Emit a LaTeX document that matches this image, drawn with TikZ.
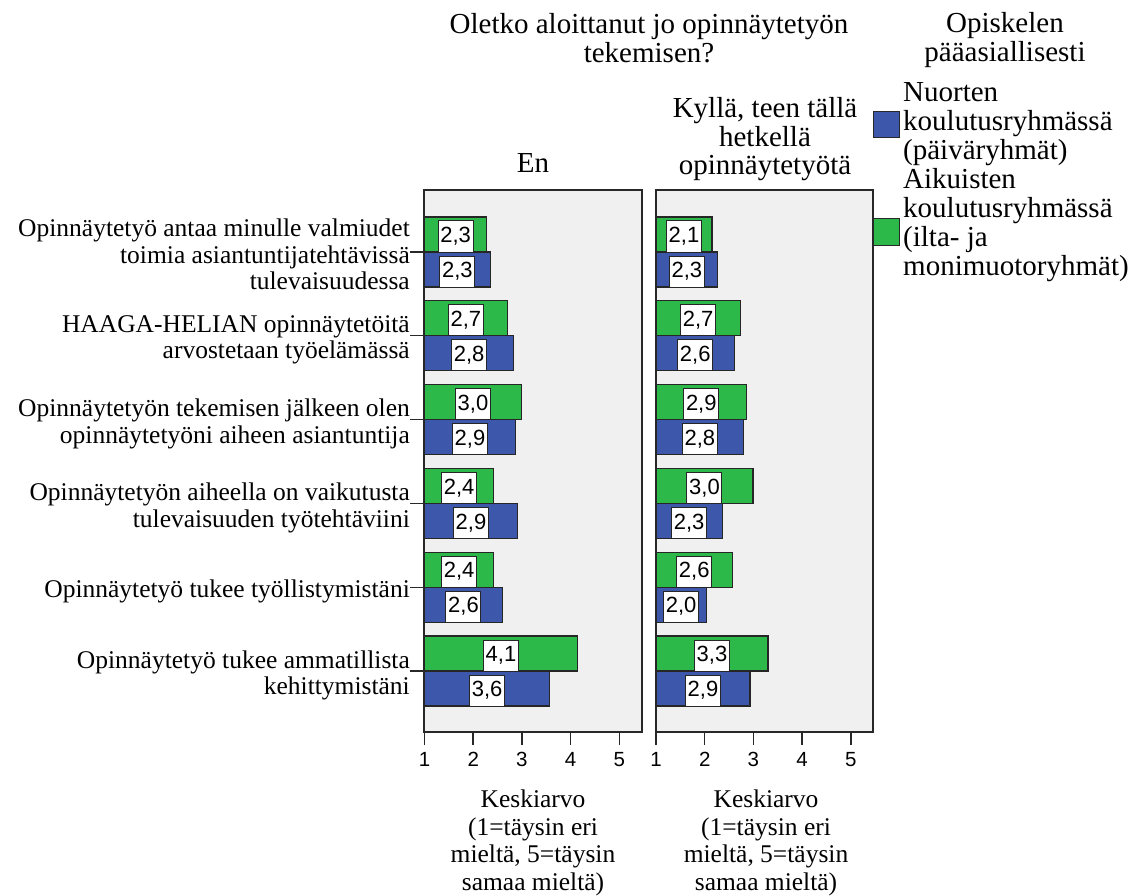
\documentclass[tikz,border=0pt]{standalone}
\usepackage{fontspec}
\setmainfont{Liberation Serif}
\newfontfamily\sansf{Liberation Sans}
\definecolor{gbar}{RGB}{45,184,74}
\definecolor{bbar}{RGB}{61,87,171}
\definecolor{panelbg}{RGB}{240,240,240}
\definecolor{edge}{RGB}{40,40,40}
\begin{document}
\begin{tikzpicture}[x=1pt,y=-1pt,
  lab/.style={inner sep=0pt,font=\fontsize{25.5}{26.7}\selectfont,align=right,anchor=north east},
  head/.style={inner sep=0pt,font=\fontsize{29}{28.5}\selectfont,align=center,anchor=north},
  legtxt/.style={inner sep=0pt,font=\fontsize{29}{29}\selectfont,align=left,anchor=north west},
  foot/.style={inner sep=0pt,font=\fontsize{25.5}{27.5}\selectfont,align=center,anchor=north},
  panel/.style={draw=edge,line width=1.5pt,fill=panelbg},
  barstyle/.style={draw=black!85,line width=1.2pt},
  val/.style={draw=black!85,line width=1pt,fill=white,inner sep=0pt,minimum width=35,minimum height=31,font=\sansf\fontsize{22}{24}\selectfont},
  ticklab/.style={inner sep=0pt,anchor=base,font=\sansf\fontsize{20.5}{22}\selectfont},
  legbox/.style={draw=edge,line width=1pt,inner sep=0pt,minimum width=26,minimum height=26}
]
\useasboundingbox (0,0) rectangle (1143,896);

% headers
\node[head] (q) at (649,13.2) {Oletko aloittanut jo opinnäytetyön\\tekemisen?};
\node[head] (hen) at (533,153.8) {En};
\node[head] (hky) at (765,97.2) {Kyllä, teen tällä\\hetkellä\\opinnäytetyötä};

% legend
\node[head] (lt) at (1005,12.2) {Opiskelen\\pääasiallisesti};
\node[legbox,fill=bbar] (lb) at (886,124.5) {};
\node[legbox,fill=gbar] (lg) at (886,232) {};
\node[legtxt] (ltb) at (903,82.8) {Nuorten\\koulutusryhmässä\\(päiväryhmät)};
\node[legtxt] (ltg) at (903,168.2) {Aikuisten\\koulutusryhmässä\\(ilta- ja\\monimuotoryhmät)};

% panels
\draw[panel] (424,190) rectangle (642,732);
\draw[panel] (656,190) rectangle (873,732);

% ticks
\foreach \xo/\p in {424.5/1,656/2}{
  \foreach \k in {1,...,5}{
    \draw[edge,line width=1.5pt] ({\xo+(\k-1)*48.7},732) -- ({\xo+(\k-1)*48.7},745);
    \node[ticklab] (t\p\k) at ({\xo+(\k-1)*48.7},766) {\k};
  }
}

% bars and value labels
\foreach \p/\xo/\i/\g/\gl/\b/\bl in {
 1/424.5/1/2.28/2{,}3/2.35/2{,}3,
 1/424.5/2/2.70/2{,}7/2.83/2{,}8,
 1/424.5/3/2.99/3{,}0/2.87/2{,}9,
 1/424.5/4/2.42/2{,}4/2.91/2{,}9,
 1/424.5/5/2.42/2{,}4/2.60/2{,}6,
 1/424.5/6/4.14/4{,}1/3.57/3{,}6,
 2/656/1/2.15/2{,}1/2.27/2{,}3,
 2/656/2/2.73/2{,}7/2.61/2{,}6,
 2/656/3/2.86/2{,}9/2.80/2{,}8,
 2/656/4/2.99/3{,}0/2.36/2{,}3,
 2/656/5/2.57/2{,}6/2.03/2{,}0,
 2/656/6/3.30/3{,}3/2.93/2{,}9}{
  \pgfmathsetmacro\gc{252+83.8*(\i-1)}
  \pgfmathsetmacro\gx{\xo+(\g-1)*48.7}
  \pgfmathsetmacro\bx{\xo+(\b-1)*48.7}
  \draw[barstyle,fill=gbar] (\xo,\gc-35) rectangle (\gx,\gc);
  \draw[barstyle,fill=bbar] (\xo,\gc) rectangle (\bx,\gc+35);
  \node[val] (vg\p\i) at ({(\xo+\gx)/2},\gc-15.5) {\gl};
  \node[val] (vb\p\i) at ({(\xo+\bx)/2},\gc+19.5) {\bl};
}

% left labels
\node[lab] (l1) at (410,218.6) {Opinnäytetyö antaa minulle valmiudet\\toimia asiantuntijatehtävissä\\tulevaisuudessa};
\node[lab] (l2) at (410,315.0) {HAAGA-HELIAN opinnäytetöitä\\arvostetaan työelämässä};
\node[lab] (l3) at (410,398.9) {Opinnäytetyön tekemisen jälkeen olen\\opinnäytetyöni aiheen asiantuntija};
\node[lab] (l4) at (410,482.7) {Opinnäytetyön aiheella on vaikutusta\\tulevaisuuden työtehtäviini};
\node[lab] (l5) at (410,579.8) {Opinnäytetyö tukee työllistymistäni};
\node[lab] (l6) at (410,650.3) {Opinnäytetyö tukee ammatillista\\kehittymistäni};

\foreach \i in {1,...,6}{
  \pgfmathsetmacro\gc{252+83.8*(\i-1)}
  \coordinate (c\i) at (424,\gc);
  \draw[edge,line width=1.3pt] (l\i.east |- c\i) -- (c\i);
}

% axis titles
\node[foot] (f1) at (533,789.6) {Keskiarvo\\(1=täysin eri\\mieltä, 5=täysin\\samaa mieltä)};
\node[foot] (f2) at (766,789.6) {Keskiarvo\\(1=täysin eri\\mieltä, 5=täysin\\samaa mieltä)};
\end{tikzpicture}
\end{document}
